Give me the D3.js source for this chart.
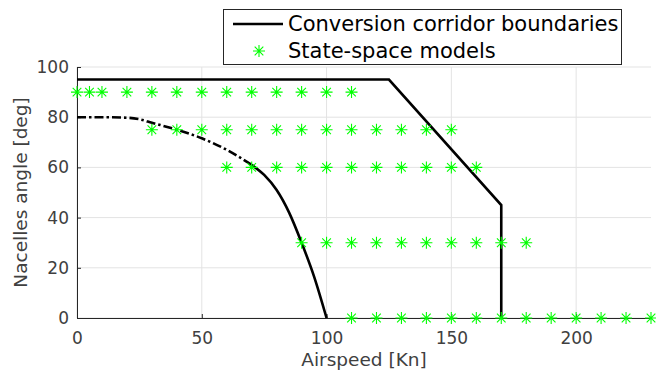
<!DOCTYPE html>
<html>
<head>
<meta charset="utf-8">
<script src="https://cdn.jsdelivr.net/npm/d3@7"></script>
<style>
  html, body { margin: 0; padding: 0; background: #fff; }
  svg { display: block; font-family: "DejaVu Sans", sans-serif; }
</style>
</head>
<body>
<svg id="chart" width="656" height="370"></svg>
<script>
// Tick values
const xTicks = [0, 50, 100, 150, 200];
const yTicks = [0, 20, 40, 60, 80, 100];

// Outer conversion corridor boundary [airspeed, angle]
const outerBoundary = [[0, 95], [125, 95], [170, 45], [170, 0]];

// Inner boundary: dash-dot upper part, solid lower part
const innerDashed = [[0, 80], [10, 80], [20, 79.8], [25, 79.2], [30, 77.8], [40, 75], [50, 71.6], [60, 67], [70, 61]];
const innerSolid = [[70, 61], [75, 57], [80, 51], [85, 42], [90, 30], [95, 16.5], [100, 0]];

// State-space model grid: one list of airspeeds per nacelle angle
const modelAngles = [90, 75, 60, 30, 0];
const modelSpeeds = [
  [0, 5, 10, 20, 30, 40, 50, 60, 70, 80, 90, 100, 110],
  [30, 40, 50, 60, 70, 80, 90, 100, 110, 120, 130, 140, 150],
  [60, 70, 80, 90, 100, 110, 120, 130, 140, 150, 160],
  [90, 100, 110, 120, 130, 140, 150, 160, 170, 180],
  [110, 120, 130, 140, 150, 160, 170, 180, 190, 200, 210, 220, 230]
];

const svg = d3.select("#chart");
const plotL = 77, plotR = 651, plotT = 67, plotB = 318;
const x = d3.scaleLinear().domain([0, 230]).range([plotL, plotR]);
const y = d3.scaleLinear().domain([0, 100]).range([plotB, plotT]);

const axisColor = "#262626";
const textColor = "#404040";

// grid
const grid = svg.append("g");
grid.selectAll("line.gx").data(xTicks).join("line")
  .attr("x1", d => x(d)).attr("x2", d => x(d))
  .attr("y1", plotT).attr("y2", plotB)
  .attr("stroke", "#e3e3e3").attr("stroke-width", 1);
grid.selectAll("line.gy").data(yTicks).join("line")
  .attr("x1", plotL).attr("x2", plotR)
  .attr("y1", d => y(d)).attr("y2", d => y(d))
  .attr("stroke", "#e3e3e3").attr("stroke-width", 1);

// axes (ticks point inward)
const xAxis = svg.append("g").attr("transform", `translate(0,${plotB})`)
  .call(d3.axisBottom(x).tickValues(xTicks).tickSizeInner(-4).tickSizeOuter(0).tickPadding(10));
const yAxis = svg.append("g").attr("transform", `translate(${plotL},0)`)
  .call(d3.axisLeft(y).tickValues(yTicks).tickSizeInner(-4).tickSizeOuter(0).tickPadding(8));
[xAxis, yAxis].forEach(a => {
  a.select(".domain").attr("stroke", axisColor).attr("stroke-width", 1);
  a.selectAll(".tick line").attr("stroke", axisColor);
  a.selectAll(".tick text").attr("fill", textColor)
    .style("font-family", "DejaVu Sans").style("font-size", "17px");
});
xAxis.selectAll(".tick text").attr("dy", "0.95em");

// axis labels
svg.append("text").attr("x", (plotL + plotR) / 2).attr("y", 366)
  .attr("text-anchor", "middle").attr("fill", textColor)
  .style("font-size", "18.5px").text("Airspeed [Kn]");
svg.append("text").attr("transform", `translate(27,${(plotT + plotB) / 2}) rotate(-90)`)
  .attr("text-anchor", "middle").attr("fill", textColor)
  .style("font-size", "18.5px").text("Nacelles angle [deg]");

// boundaries
const line = d3.line().x(d => x(d[0])).y(d => y(d[1]));
const innerCurve = d3.line().x(d => x(d[0])).y(d => y(d[1])).curve(d3.curveMonotoneX);
svg.append("path").datum(outerBoundary).attr("d", line)
  .attr("fill", "none").attr("stroke", "#000").attr("stroke-width", 2.6).attr("stroke-linejoin", "miter");
svg.append("path").datum(innerDashed).attr("d", innerCurve)
  .attr("fill", "none").attr("stroke", "#000").attr("stroke-width", 2.6)
  .attr("stroke-dasharray", "9,3,2.5,3");
svg.append("path").datum(innerSolid).attr("d", innerCurve)
  .attr("fill", "none").attr("stroke", "#000").attr("stroke-width", 2.6);

// asterisk marker
function star(g, cx, cy, r) {
  const d = r * 0.72;
  g.append("path")
    .attr("d", `M${cx - r},${cy}H${cx + r}M${cx},${cy - r}V${cy + r}` +
               `M${cx - d},${cy - d}L${cx + d},${cy + d}M${cx - d},${cy + d}L${cx + d},${cy - d}`)
    .attr("stroke", "#00ff00").attr("stroke-width", 1.1).attr("fill", "none");
}
const models = modelAngles.flatMap((a, i) => modelSpeeds[i].map(s => [s, a]));
const mg = svg.append("g");
models.forEach(p => star(mg, x(p[0]), y(p[1]), 6));

// legend
const lg = svg.append("g");
lg.append("rect").attr("x", 223.5).attr("y", 9.5).attr("width", 398).attr("height", 55)
  .attr("fill", "#fff").attr("stroke", "#262626").attr("stroke-width", 1);
lg.append("line").attr("x1", 233).attr("x2", 283).attr("y1", 24).attr("y2", 24)
  .attr("stroke", "#000").attr("stroke-width", 2.6);
star(lg, 259, 51, 6);
lg.append("text").attr("x", 288).attr("y", 31).attr("fill", "#000")
  .style("font-size", "21px").text("Conversion corridor boundaries");
lg.append("text").attr("x", 288).attr("y", 58).attr("fill", "#000")
  .style("font-size", "21px").text("State-space models");
</script>
</body>
</html>
